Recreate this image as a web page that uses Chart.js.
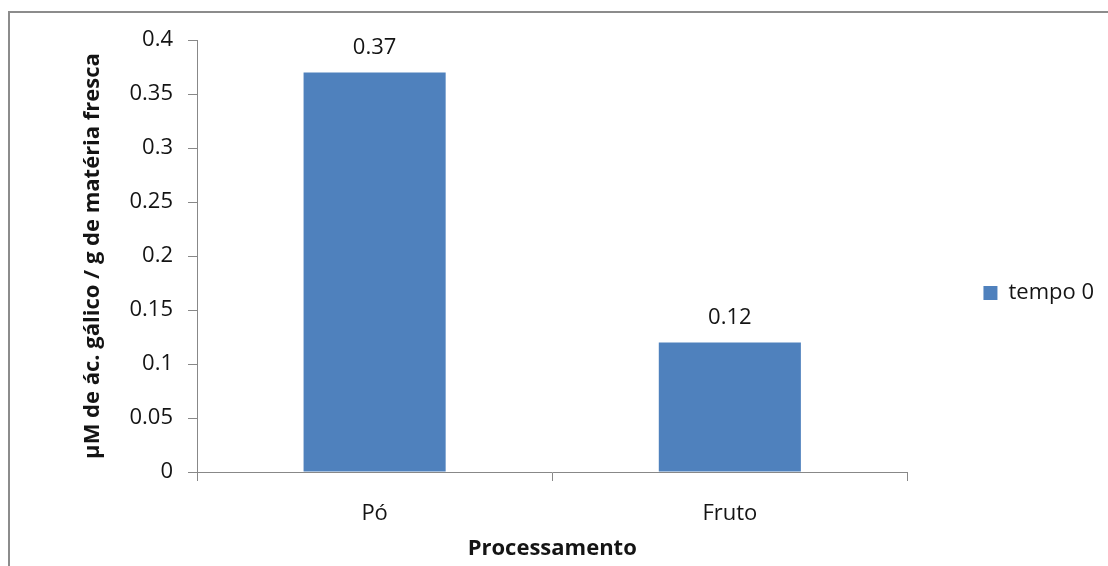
<!DOCTYPE html>
<html>
<head>
<meta charset="utf-8">
<script src="https://cdn.jsdelivr.net/npm/chart.js@4/dist/chart.umd.min.js"></script>
<style>
  html, body { margin: 0; padding: 0; background: #fff; overflow: hidden; }
  #wrap { position: relative; width: 1108px; height: 566px; }
  #frame {
    position: absolute; left: 8px; top: 11px; width: 1108px; height: 566px;
    border-top: 2px solid #8c8c8c; border-left: 2px solid #8c8c8c;
  }
  #chart { position: absolute; left: 0; top: 0; }
</style>
</head>
<body>
<div id="wrap">
  <div id="frame"></div>
  <canvas id="chart" width="1108" height="566"></canvas>
</div>
<script>
// Categories and measured values
const categories = ['Pó', 'Fruto'];
const seriesName = 'tempo 0';
const seriesValues = [0.37, 0.12];
const yTickLabels = ['0', '0.05', '0.1', '0.15', '0.2', '0.25', '0.3', '0.35', '0.4'];
const yTitle = 'µM de ác. gálico / g de matéria fresca';
const xTitle = 'Processamento';

const TEXT = '#141414';
const AXIS = '#888888';
const BAR = '#4F81BD';
const FONT = '"Open Sans", "DejaVu Sans", sans-serif';

// Value labels above each bar
const barValueLabels = {
  id: 'barValueLabels',
  afterDatasetsDraw(chart) {
    const ctx = chart.ctx;
    const meta = chart.getDatasetMeta(0);
    ctx.save();
    ctx.font = '22px ' + FONT;
    ctx.fillStyle = TEXT;
    ctx.textAlign = 'center';
    ctx.textBaseline = 'alphabetic';
    meta.data.forEach((bar, i) => {
      ctx.fillText(seriesValues[i].toFixed(2), bar.x, bar.y - 18);
    });
    ctx.restore();
  }
};

new Chart(document.getElementById('chart'), {
  type: 'bar',
  data: {
    labels: categories,
    datasets: [{
      label: seriesName,
      data: seriesValues,
      backgroundColor: BAR,
      borderWidth: 0,
      categoryPercentage: 1.0,
      barPercentage: 0.4
    }]
  },
  options: {
    responsive: false,
    animation: false,
    devicePixelRatio: 1,
    layout: { padding: { top: 40, left: 80, right: 4, bottom: 20 } },
    plugins: {
      tooltip: { enabled: false },
      legend: {
        position: 'right',
        align: 'center',
        labels: {
          boxWidth: 14,
          boxHeight: 14,
          padding: 76,
          color: TEXT,
          font: { family: FONT, size: 22 }
        }
      }
    },
    scales: {
      x: {
        grid: { drawOnChartArea: false, drawTicks: true, tickLength: 9, offset: true, color: AXIS },
        border: { display: true, color: AXIS },
        ticks: { color: TEXT, font: { family: FONT, size: 22 }, padding: 20, maxRotation: 0 },
        title: {
          display: true, text: xTitle, color: TEXT,
          font: { family: FONT, size: 22, weight: 'bold' },
          padding: { top: 0, bottom: -16 }
        },
        afterFit(scale) { scale.height = 74; }
      },
      y: {
        min: 0, max: 0.4,
        grid: { drawOnChartArea: false, drawTicks: true, tickLength: 9, color: AXIS },
        border: { display: true, color: AXIS },
        ticks: {
          stepSize: 0.05, color: TEXT, padding: 15,
          font: { family: FONT, size: 22 },
          callback: (v, i) => yTickLabels[i]
        },
        title: {
          display: true, text: yTitle, color: TEXT,
          font: { family: FONT, size: 22, weight: 'bold' },
          padding: { top: 0, bottom: 0 }
        },
        afterFit(scale) { scale.width = 117; }
      }
    }
  },
  plugins: [barValueLabels]
});
</script>
</body>
</html>
